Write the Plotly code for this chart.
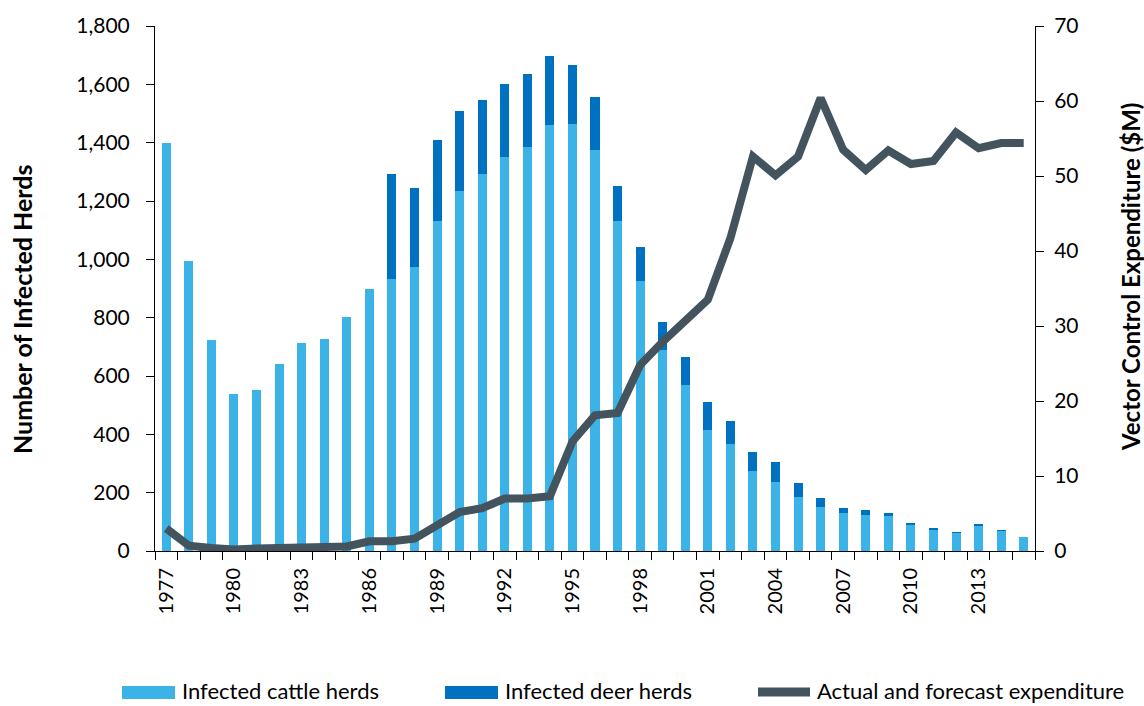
import plotly.graph_objects as go

years = list(range(1977, 2016))
cattle = [1400, 996, 725, 540, 552, 640, 714, 726, 804, 900,
          933, 973, 1131, 1234, 1293, 1350, 1385, 1462, 1464, 1376,
          1131, 925, 689, 569, 415, 367, 275, 235, 185, 152,
          130, 125, 120, 90, 75, 62, 87, 69, 49]
total = [1400, 996, 725, 540, 552, 640, 714, 726, 804, 900,
         1293, 1246, 1410, 1510, 1545, 1600, 1637, 1696, 1666, 1555,
         1253, 1041, 785, 665, 510, 445, 341, 306, 234, 183,
         146, 141, 129, 97, 79, 65, 91, 72, 49]
deer = [t - c for t, c in zip(total, cattle)]
expenditure = [3.0, 0.7, 0.4, 0.2, 0.35, 0.45, 0.6, 0.6, 0.6, 1.3,
               1.3, 1.65, 3.5, 5.2, 5.7, 7.0, 7.0, 7.3, 14.6, 18.1,
               18.4, 24.8, 27.9, 30.8, 33.5, 41.7, 52.6, 50.1, 52.6, 60.4,
               53.5, 50.8, 53.4, 51.6, 52.0, 55.8, 53.7, 54.4, 54.4]
tick_years = list(range(1977, 2016, 3))
series_names = ["Infected cattle herds", "Infected deer herds", "Actual and forecast expenditure"]
left_title = "Number of Infected Herds"
right_title = "Vector Control Expenditure ($M)"
colors = ["#3BB3E6", "#0070C0", "#44545F"]

font = "Lato"
W, H = 1144, 706
L, R, T, B = 155, 109, 26, 155
PW, PH = W - L - R, H - T - B

def px_x(px):
    return (px - L) / PW

def px_y(py):
    return (H - B - py) / PH

fig = go.Figure()
fig.add_trace(go.Bar(x=years, y=cattle, name=series_names[0],
                     marker=dict(color=colors[0], line=dict(width=0)), width=0.4))
fig.add_trace(go.Bar(x=years, y=deer, name=series_names[1],
                     marker=dict(color=colors[1], line=dict(width=0)), width=0.4))
fig.add_trace(go.Scatter(x=years, y=expenditure, name=series_names[2],
                         mode="lines", line=dict(color=colors[2], width=8), yaxis="y2"))

# manual legend (wide swatches as in the reference)
shapes = []
annotations = []
legend_swatch_x = [(122, 175), (445, 498), (758, 810)]
legend_text_x = [180, 503, 815]
sy0, sy1 = 686, 699
for i, name in enumerate(series_names):
    x0, x1 = legend_swatch_x[i]
    if i < 2:
        shapes.append(dict(type="rect", xref="paper", yref="paper",
                           x0=px_x(x0), x1=px_x(x1), y0=px_y(sy1), y1=px_y(sy0),
                           fillcolor=colors[i], line=dict(width=0)))
    else:
        shapes.append(dict(type="line", xref="paper", yref="paper",
                           x0=px_x(x0), x1=px_x(x1), y0=px_y(692), y1=px_y(692),
                           line=dict(color=colors[i], width=9)))
    annotations.append(dict(text=name, xref="paper", yref="paper",
                            x=px_x(legend_text_x[i]), y=px_y(690),
                            xanchor="left", yanchor="middle", showarrow=False,
                            font=dict(size=22, family=font, color="#000000")))

# axis titles placed like the reference
annotations.append(dict(text="<b>" + left_title + "</b>", xref="paper", yref="paper",
                        x=px_x(22), y=px_y(310), textangle=-90, showarrow=False,
                        xanchor="center", yanchor="middle",
                        font=dict(size=25, family=font, color="#000000")))
annotations.append(dict(text="<b>" + right_title + "</b>", xref="paper", yref="paper",
                        x=px_x(1130), y=px_y(277), textangle=-90, showarrow=False,
                        xanchor="center", yanchor="middle",
                        font=dict(size=24, family=font, color="#000000")))

fig.update_layout(
    width=W, height=H,
    margin=dict(l=L, r=R, t=T, b=B, autoexpand=False),
    barmode="stack",
    plot_bgcolor="white", paper_bgcolor="white",
    font=dict(family=font, size=20, color="#000000"),
    showlegend=False,
    shapes=shapes,
    annotations=annotations,
    xaxis=dict(range=[1976.5, 2015.5], tickmode="array", tickvals=tick_years,
               ticktext=[str(y) for y in tick_years], tickangle=-90,
               ticks="", showline=True, linecolor="#000000", linewidth=1,
               showgrid=False, zeroline=False, tickfont=dict(size=20),
               ticklabelstandoff=8,
               minor=dict(tickmode="array", tickvals=[y + 0.5 for y in range(1976, 2016)],
                          ticks="outside", ticklen=8, tickcolor="#000000", showgrid=False)),
    yaxis=dict(range=[0, 1800], dtick=200, tickformat=",d", ticks="outside", ticklen=8,
               tickcolor="#000000", showline=True, linecolor="#000000", linewidth=1,
               showgrid=False, zeroline=False, tickfont=dict(size=21),
               ticklabelstandoff=12),
    yaxis2=dict(range=[0, 70], dtick=10, overlaying="y", side="right", ticks="outside",
                ticklen=8, tickcolor="#000000", showline=True, linecolor="#000000", linewidth=1,
                showgrid=False, zeroline=False, tickfont=dict(size=21),
                ticklabelstandoff=6),
)
fig.write_html("out.html")
